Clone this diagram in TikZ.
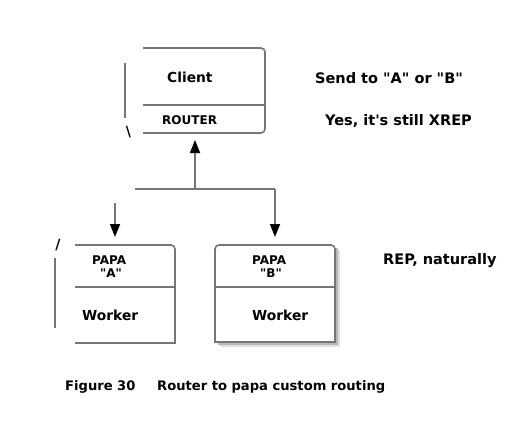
\documentclass[tikz,border=0pt]{standalone}
\usepackage{fontspec}
\setmainfont{DejaVu Sans}
\usetikzlibrary{arrows.meta}
\definecolor{ln}{RGB}{118,118,118}
\newcommand{\qd}{\textquotedbl}
\begin{document}
\begin{tikzpicture}[x=1bp,y=-1bp,
  ln/.style={draw=ln, line width=1.6bp},
  arr/.style={ln, -{Triangle[length=13bp,width=10bp,color=black,fill=black]}},
  big/.style={inner sep=0, anchor=base west, font=\fontsize{13.8bp}{16bp}\selectfont\bfseries},
  note/.style={inner sep=0, anchor=base west, font=\fontsize{14.5bp}{17bp}\selectfont\bfseries},
  capt/.style={inner sep=0, anchor=base west, font=\fontsize{13.1bp}{16bp}\selectfont\bfseries},
  small/.style={inner sep=0, anchor=base west, font=\fontsize{12bp}{14bp}\selectfont\bfseries},
  strokechar/.style={inner sep=0, anchor=base, font=\fontsize{14bp}{16bp}\selectfont\bfseries}]
\useasboundingbox[fill=white] (0,0) rectangle (530,420);

% ---- Client / ROUTER box
\draw[ln] (125,63) -- (125,118);
\draw[ln, rounded corners=4bp] (143,48) -- (265,48) -- (265,133) -- (143,133);
\draw[ln] (143,105) -- (265,105);
\node[strokechar] (bs) at (128.5,136) {\textbackslash};
\node[big] (client) at (167,82) {Client};
\node[small] (router) at (162,124) {ROUTER};

% ---- PAPA "A" box
\draw[ln] (55,258) -- (55,328);
\draw[ln, rounded corners=4bp] (75,245) -- (175,245) -- (175,300);
\draw[ln] (175,300) -- (175,343) -- (75,343);
\draw[ln] (75,287) -- (175,287);
\node[strokechar] (sl) at (58,249) {/};
\node[small] (papaA) at (92,264) {PAPA};
\node[small] (qa) at (100,277) {\qd A\qd};
\node[big] (workerA) at (82,320) {Worker};

% ---- PAPA "B" box with shadow
\fill[black!12] (220,250) rectangle (340,347);
\fill[black!28] (218,248) rectangle (338,345);
\fill[white] (215,250) rectangle (335,342);
\fill[white, rounded corners=4bp] (215,260) -- (215,245) -- (335,245) -- (335,260) -- cycle;
\draw[ln, rounded corners=4bp] (215,300) -- (215,245) -- (335,245) -- (335,300);
\draw[ln] (215,300) -- (215,342) -- (335,342) -- (335,300);
\draw[ln] (215,287) -- (335,287);
\node[small] (papaB) at (252,264) {PAPA};
\node[small] (qb) at (260,277) {\qd B\qd};
\node[big] (workerB) at (252,320) {Worker};

% ---- connectors
\coordinate (jl) at (135,189);
\coordinate (jc) at (195,189);
\coordinate (jr) at (275,189);
\coordinate (clientin) at (195,140);
\coordinate (as) at (115,203);
\coordinate (ain) at (115,237);
\coordinate (bin) at (275,237);
\draw[ln] (jl) -- (jr);
\draw[arr] (jc) -- (clientin);
\draw[arr] (jr) -- (bin);
\draw[arr] (as) -- (ain);

% ---- annotations
\node[note] (send) at (315,83) {Send to \qd A\qd\ or \qd B\qd};
\node[note] (yes) at (325,125) {Yes, it\textquotesingle s still XREP};
\node[note] (rep) at (383,264) {REP, naturally};
\node[capt] (fig) at (65,390) {Figure 30};
\node[capt] (cap) at (157,390) {Router to papa custom routing};
\end{tikzpicture}
\end{document}
